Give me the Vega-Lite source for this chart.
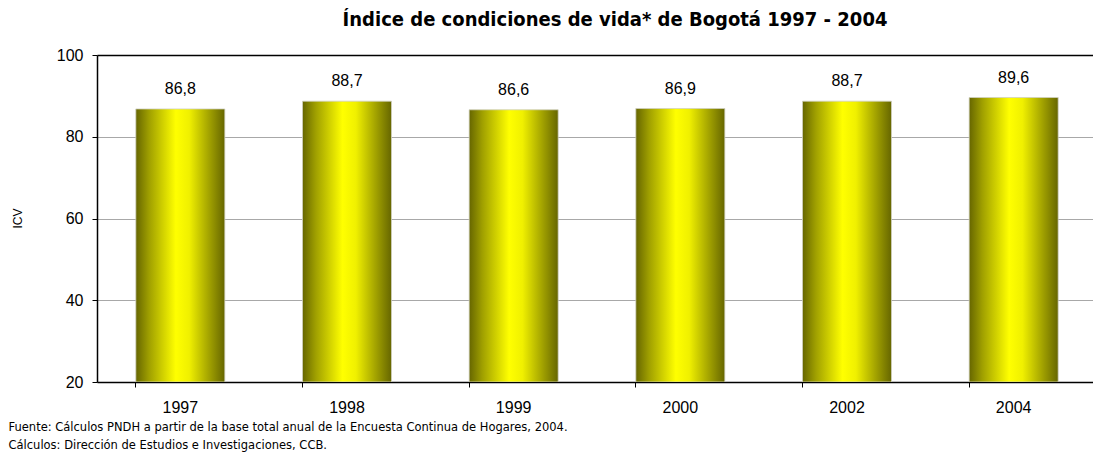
{
  "$schema": "https://vega.github.io/schema/vega-lite/v6.json",
  "width": 1000,
  "height": 327,
  "autosize": {"type": "none"},
  "padding": {"left": 97, "top": 55, "right": 0, "bottom": 71},
  "background": "white",
  "config": {
    "locale": {"number": {"decimal": ",", "thousands": ".", "grouping": [3], "currency": ["$", ""]}},
    "view": {"stroke": null}
  },
  "title": {
    "text": "Índice de condiciones de vida* de Bogotá 1997 - 2004",
    "font": "DejaVu Sans Condensed",
    "fontSize": 20,
    "fontWeight": "bold",
    "color": "black",
    "anchor": "middle",
    "dx": 18,
    "offset": 17
  },
  "data": {
    "values": [
      {"year": "1997", "icv": 86.8},
      {"year": "1998", "icv": 88.7},
      {"year": "1999", "icv": 86.6},
      {"year": "2000", "icv": 86.9},
      {"year": "2002", "icv": 88.7},
      {"year": "2004", "icv": 89.6}
    ]
  },
  "encoding": {
    "x": {
      "field": "year",
      "type": "nominal",
      "sort": null,
      "scale": {"paddingInner": 0.466, "paddingOuter": 0.233},
      "axis": {
        "title": ["Fuente: Cálculos PNDH a partir de la base total anual de la Encuesta Continua de Hogares, 2004.", "Cálculos: Dirección de Estudios e Investigaciones, CCB."],
        "titleFont": "DejaVu Sans",
        "titleFontSize": 11.5,
        "titleFontWeight": "normal",
        "titleColor": "black",
        "titleAnchor": "start",
        "titleAlign": "left",
        "titleBaseline": "middle",
        "titleX": -89,
        "titleY": 45,
        "titleLineHeight": 18,
        "labelAngle": 0,
        "labelFont": "Liberation Sans",
        "labelFontSize": 16,
        "labelColor": "black",
        "labelPadding": 12,
        "bandPosition": 0,
        "tickSize": 5,
        "tickColor": "black",
        "domainColor": "black",
        "domainWidth": 1.5,
        "grid": false
      }
    },
    "y": {
      "field": "icv",
      "type": "quantitative",
      "scale": {"domain": [20, 100], "nice": false, "zero": false},
      "axis": {
        "title": "ICV",
        "titleFont": "Liberation Sans",
        "titleFontSize": 12,
        "titleFontWeight": "normal",
        "titleColor": "black",
        "titleX": -80,
        "titleY": 163,
        "titleAlign": "center",
        "titleBaseline": "middle",
        "values": [20, 40, 60, 80, 100],
        "labelFont": "Liberation Sans",
        "labelFontSize": 16,
        "labelColor": "black",
        "labelPadding": 9,
        "tickSize": 5,
        "tickColor": "black",
        "domainColor": "black",
        "domainWidth": 1.5,
        "grid": true,
        "gridColor": {"condition": {"test": "datum.value == 100", "value": "black"}, "value": "#a8a8a8"},
        "gridWidth": {"condition": {"test": "datum.value == 100", "value": 1.5}, "value": 1.2}
      }
    }
  },
  "layer": [
    {
      "mark": {
        "type": "bar",
        "clip": true,
        "stroke": "#d0d0c0",
        "strokeWidth": 0.8,
        "color": {
          "gradient": "linear",
          "x1": 0, "x2": 1, "y1": 0, "y2": 0,
          "stops": [
            {"offset": 0, "color": "#666600"},
            {"offset": 0.15, "color": "#a0a000"},
            {"offset": 0.45, "color": "#ffff00"},
            {"offset": 0.6, "color": "#f0f000"},
            {"offset": 0.85, "color": "#999900"},
            {"offset": 1, "color": "#666600"}
          ]
        }
      },
      "encoding": {"y2": {"datum": 20}}
    },
    {
      "mark": {"type": "text", "baseline": "bottom", "dy": -12, "font": "Liberation Sans", "fontSize": 16, "color": "black"},
      "encoding": {"text": {"field": "icv", "type": "quantitative", "format": ".1f"}}
    }
  ]
}
